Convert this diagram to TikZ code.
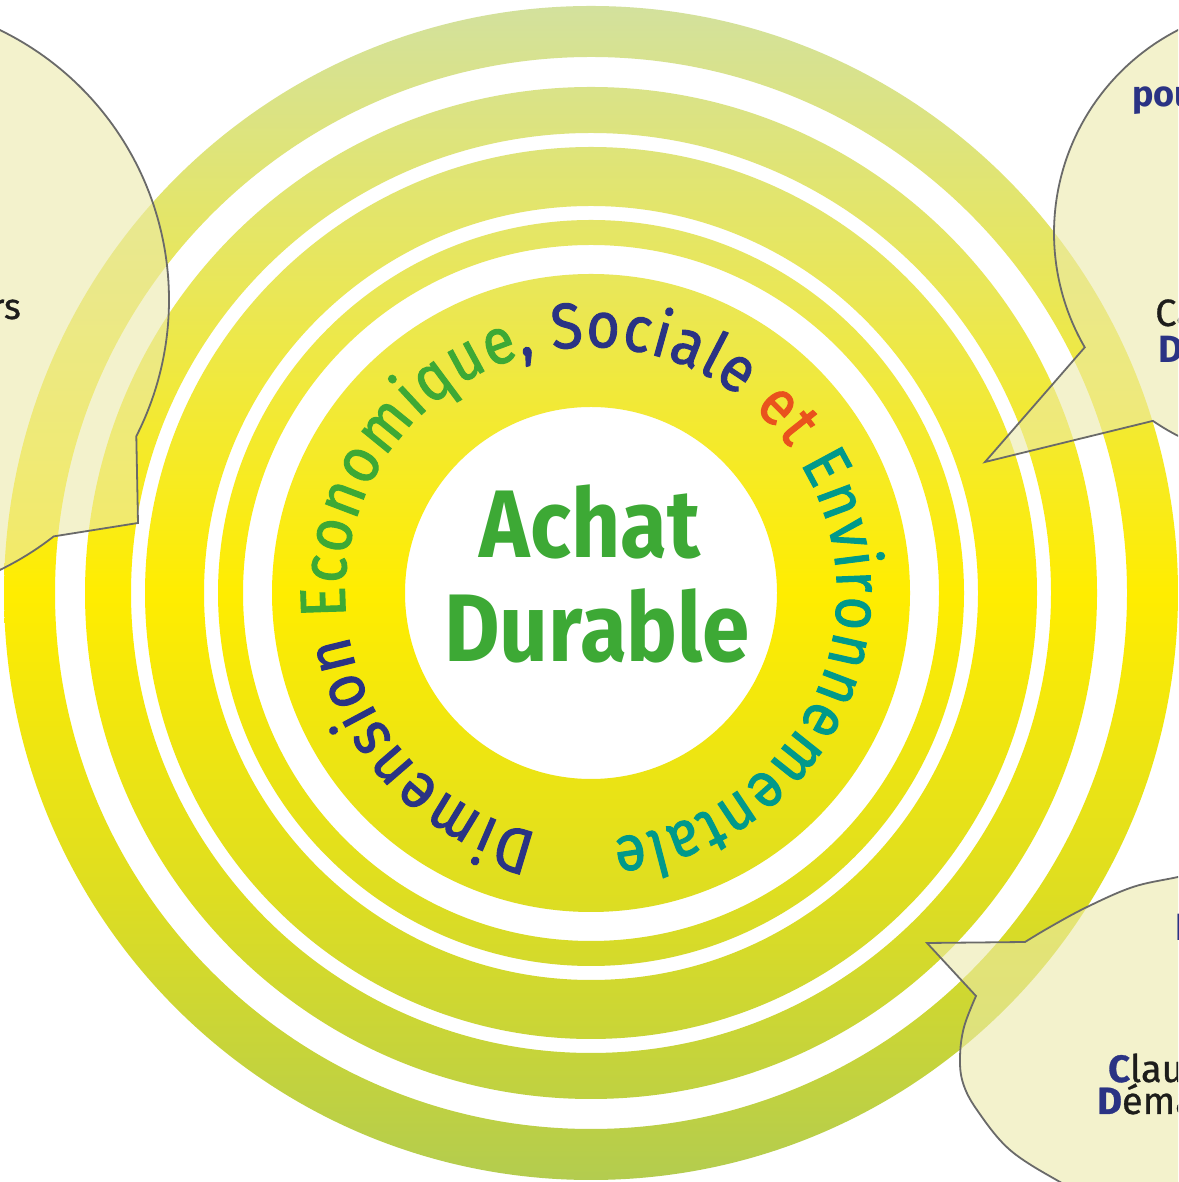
\documentclass[tikz,border=0pt]{standalone}
\usepackage{fontspec}
\setmainfont{Fira Sans}
\newfontfamily\ringfamily[FakeStretch=0.9,FakeBold=1.5]{Fira Sans}
\newfontfamily\notefamily[FakeBold=0.8]{Fira Sans}
\usetikzlibrary{decorations.text}

\definecolor{ringbottom}{HTML}{B3CC4F}
\definecolor{ringlow}{HTML}{DFDE20}
\definecolor{ringmid}{HTML}{FFED00}
\definecolor{ringhigh}{HTML}{EAE755}
\definecolor{ringtop}{HTML}{D3E19D}
\definecolor{titlegreen}{HTML}{3DA935}
\definecolor{navy}{HTML}{2A3384}
\definecolor{ecogreen}{HTML}{3DA935}
\definecolor{etorange}{HTML}{E9531D}
\definecolor{envteal}{HTML}{00998B}
\definecolor{bubblefill}{RGB}{236,234,170}
\definecolor{bubbleline}{HTML}{6A6A69}
\definecolor{inkblack}{HTML}{1D1D1B}

% vertical colour run of the concentric rings (pale green - yellow - green)
\pgfdeclareverticalshading{ringshade}{100bp}{color(0bp)=(ringbottom); color(25bp)=(ringbottom); color(37.5bp)=(ringlow); color(50bp)=(ringmid); color(62.5bp)=(ringhigh); color(75bp)=(ringtop); color(100bp)=(ringtop)}

\newcommand\ringfont{\ringfamily\fontsize{64}{64}\selectfont}

\begin{document}
\begin{tikzpicture}[x=1pt,y=1pt,
  bubble/.style={draw=bubbleline, line width=1.8pt, fill=bubblefill, fill opacity=0.6, line join=miter},
  title/.style={font=\fontsize{96}{96}\selectfont\bfseries, text=titlegreen, inner sep=0pt, xscale=0.89, transform shape},
  note/.style={font=\notefamily\fontsize{38}{38}\selectfont, text=inkblack, inner sep=0pt},
  notehead/.style={font=\fontsize{38}{38}\selectfont\bfseries, text=navy, inner sep=0pt}]

\useasboundingbox (0,0) rectangle (1178,1182);
\fill[white] (0,0) rectangle (1178,1182);

\begin{scope}
\clip (0,0) rectangle (1178,1182);
\coordinate (O) at (591,589);

% concentric rings with white gaps
\shade[shading=ringshade, even odd rule]
  (O) circle[radius=587] (O) circle[radius=536]
  (O) circle[radius=506] (O) circle[radius=460]
  (O) circle[radius=446] (O) circle[radius=387]
  (O) circle[radius=373] (O) circle[radius=348]
  (O) circle[radius=319] (O) circle[radius=186];

% circular caption
\path[decorate, decoration={text along path, text align=fit to path,
  text={|\ringfont\color{navy}|Dimension |\ringfont\color{ecogreen}|Economique|\ringfont\color{navy}|, Sociale |\ringfont\color{etorange}|et |\ringfont\color{envteal}|Environnementale}}]
  (O) ++(257.5:246) arc[start angle=257.5, end angle=-85, radius=246];

% central title
\node[title, anchor=base] (achat) at (590,624) {Achat};
\node[title, anchor=base] (durable) at (597,520) {Durable};

% speech bubbles
\draw[bubble] (-131,882) ++(75:300) arc[start angle=75, end angle=-27, radius=300]
  -- (138,659) -- (53.7,645.6) arc[start angle=-52, end angle=-80, radius=300] -- cycle;

\draw[bubble] (1282,949) ++(100:228) arc[start angle=100, end angle=210.1, radius=228]
  -- (985,720) -- (1152.9,761.1) arc[start angle=235.5, end angle=280, radius=228] -- cycle;

\draw[bubble] plot[smooth, tension=0.6] coordinates {(1240,318) (1178,305) (1133,295) (1087,275) (1050,255) (1025,240)}
  -- (927,239) -- (976,186)
  -- plot[smooth, tension=0.6] coordinates {(976,186) (964,155) (960,125) (963,99) (977,72) (1010,32) (1060,0) (1100,-20)}
  -- (1240,-20) -- cycle;

% bubble texts
\node[note, font=\notefamily\fontsize{36}{36}\selectfont, anchor=base east] (lefttxt) at (21,863) {rs};
\node[notehead, font=\fontsize{36}{36}\selectfont\bfseries, anchor=base west] (toptitle) at (1132,1075) {pou};
\node[note, anchor=base west] (topline1) at (1155,856) {Ca};
\node[notehead, anchor=base west] (topline2) at (1158,819) {D};
\node[notehead, anchor=base west] (bottitle) at (1175,241) {I};
\node[note, anchor=base west] (botline1) at (1108,100) {\textcolor{navy}{\bfseries C}laus};
\node[note, anchor=base west] (botline2) at (1097,68) {\textcolor{navy}{\bfseries D}éma};
\end{scope}
\end{tikzpicture}
\end{document}
